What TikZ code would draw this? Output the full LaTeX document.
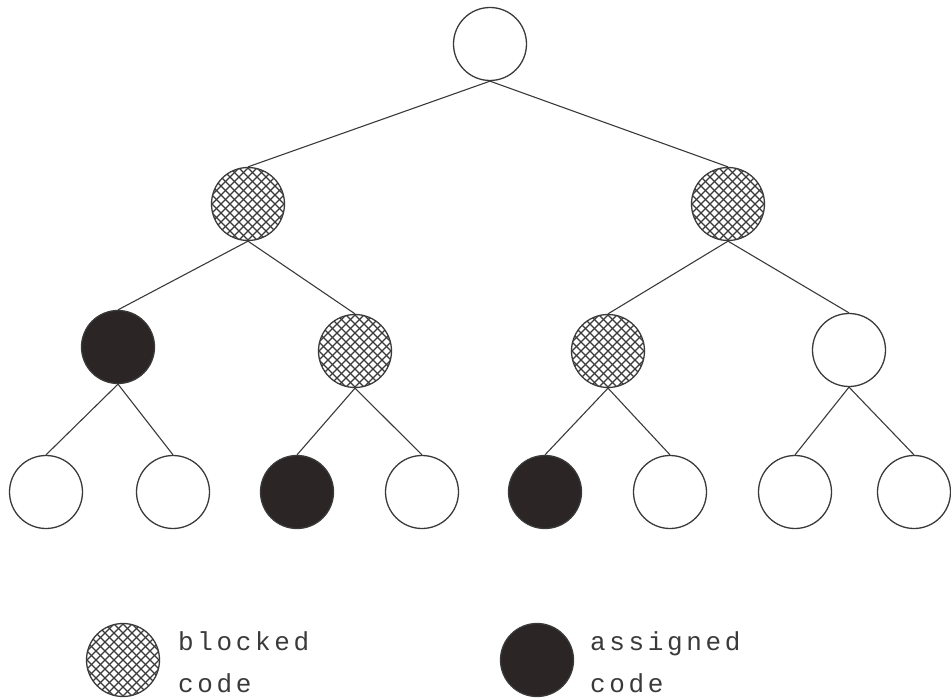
\documentclass[tikz,border=0pt]{standalone}
\usepackage{fontspec}
\newfontfamily\legendfont[LetterSpace=14]{Liberation Mono}
\definecolor{inkc}{HTML}{3A3A3A}
\definecolor{darkfill}{HTML}{2B2526}
\begin{document}
\begin{tikzpicture}[x=1pt,y=-1pt,
  nd/.style={circle,draw=inkc,line width=1.3pt,minimum size=73pt,inner sep=0pt},
  plain/.style={nd,fill=white},
  solid/.style={nd,fill=darkfill},
  hatch/.style={nd,fill=white,path picture={
     \foreach \k in {-10,...,10}{
       \draw[inkc,line width=1.3pt,shift={(path picture bounding box.center)}] (\k*9-45,-45) -- ++(90,90);
       \draw[inkc,line width=1.3pt,shift={(path picture bounding box.center)}] (\k*9+45,-45) -- ++(-90,90);
     }}},
  edge/.style={draw=inkc,line width=1.1pt},
  lbl/.style={anchor=base west,inner sep=0pt,font=\legendfont\fontsize{26pt}{30pt}\selectfont,text=inkc}
]
\useasboundingbox (0,0) rectangle (951,698);
% nodes
\node[plain] (r) at (490,44) {};
\node[hatch] (a) at (248,204) {};
\node[hatch] (b) at (728,204) {};
\node[solid] (aa) at (118,347) {};
\node[hatch] (ab) at (355,351) {};
\node[hatch] (ba) at (608,351) {};
\node[plain] (bb) at (849,350) {};
\node[plain] (l1) at (46,492) {};
\node[plain] (l2) at (173,492) {};
\node[solid] (l3) at (297,492) {};
\node[plain] (l4) at (422,492) {};
\node[solid] (l5) at (545,492) {};
\node[plain] (l6) at (670,492) {};
\node[plain] (l7) at (795,492) {};
\node[plain] (l8) at (914,492) {};
% edges
\foreach \p/\c in {r/a,r/b,a/aa,a/ab,b/ba,b/bb,aa/l1,aa/l2,ab/l3,ab/l4,ba/l5,ba/l6,bb/l7,bb/l8}
  \draw[edge] (\p.south) -- (\c.north);
% legend
\node[hatch] (kh) at (123,660) {};
\node[solid] (ks) at (537,660) {};
\node[lbl] (kht1) at (178,650) {blocked};
\node[lbl] (kht2) at (178,692) {code};
\node[lbl] (kst1) at (590,650) {assigned};
\node[lbl] (kst2) at (590,692) {code};
\end{tikzpicture}
\end{document}
